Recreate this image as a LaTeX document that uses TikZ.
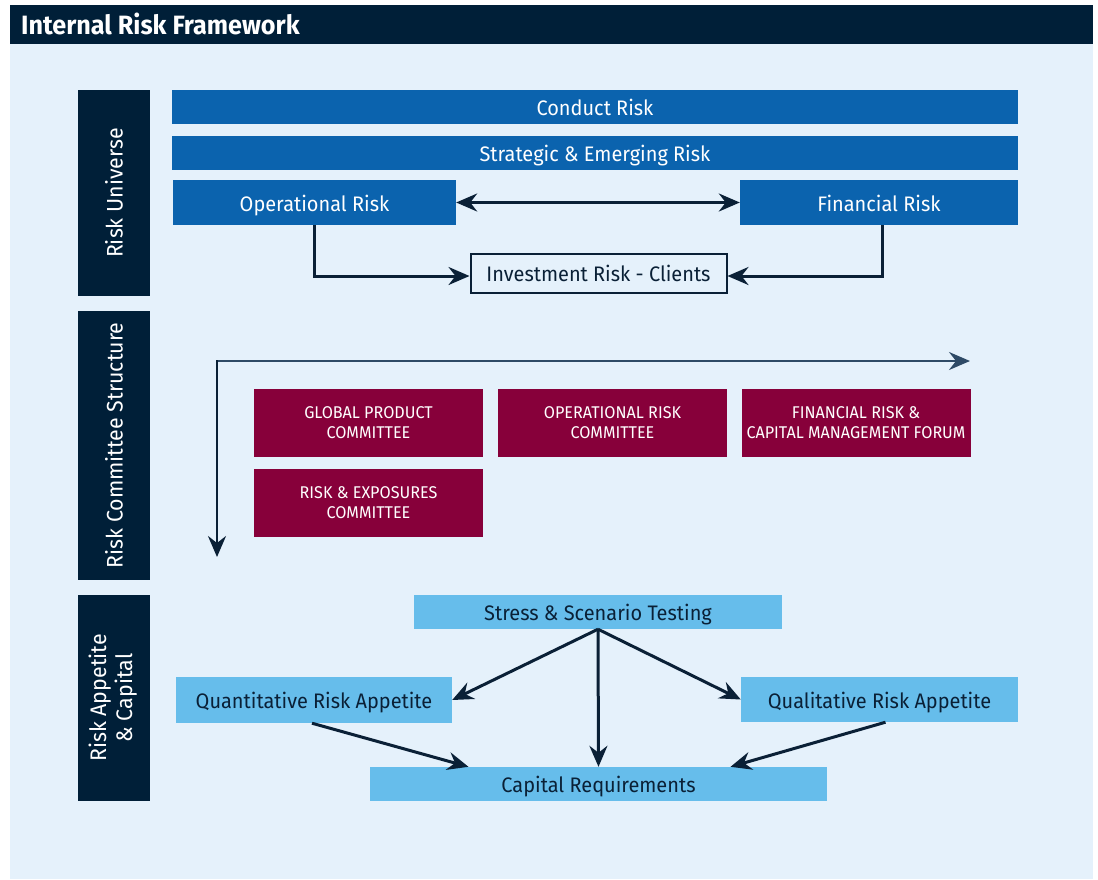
\documentclass[tikz,border=0pt]{standalone}
\usepackage{fontspec}
\setmainfont{Fira Sans}[FakeStretch=0.95]
\usetikzlibrary{arrows.meta,positioning}

\definecolor{navy}{HTML}{001F38}
\definecolor{paleblue}{HTML}{E5F1FB}
\definecolor{riskblue}{HTML}{0B63AE}
\definecolor{maroon}{HTML}{87003A}
\definecolor{skyblue}{HTML}{66BDEB}
\definecolor{arrownavy}{HTML}{0A2036}
\definecolor{slate}{HTML}{2E4A66}

\begin{document}
\begin{tikzpicture}
[x=1pt,y=-1pt,
 side/.style={fill=navy,text=white,inner sep=0pt,minimum width=72pt,
    align=center,font=\fontsize{22.5}{26}\selectfont},
 riskbar/.style={fill=riskblue,text=white,inner sep=0pt,text height=17.5pt,
    text depth=0pt,font=\fontsize{21}{24}\selectfont},
 committee/.style={fill=maroon,text=white,inner sep=0pt,minimum width=229pt,
    minimum height=68pt,align=center,font=\fontsize{17}{20}\selectfont},
 appetite/.style={fill=skyblue,text=arrownavy,inner sep=0pt,text height=17.5pt,
    text depth=0pt,font=\fontsize{21}{24}\selectfont},
 head/.tip={Stealth[length=21pt,width=18pt,inset=7pt]},
 link/.style={draw=arrownavy,line width=3pt,-head}]
\useasboundingbox (0,0) rectangle (1098,879);
\fill[paleblue] (10,44) rectangle (1093,879);
\fill[navy] (10,5) rectangle (1093,44);
\node[anchor=west,text=white,inner sep=0pt,font=\fontsize{26.5}{30}\selectfont\bfseries]
  (title) at (21,24) {Internal Risk Framework};

\node[side,minimum height=206pt] (uni) at (114,193) {\rotatebox{90}{Risk Universe}};
\node[side,minimum height=269pt] (comm) at (114,445.5) {\rotatebox{90}{Risk Committee Structure}};
\node[side,minimum height=206pt] (app) at (114,698)
  {\rotatebox{90}{\begin{tabular}{@{}c@{}}Risk Appetite\\ \& Capital\end{tabular}}};

\node[riskbar,minimum width=846pt,minimum height=34pt] (conduct) at (595,107) {Conduct Risk};
\node[riskbar,minimum width=846pt,minimum height=34pt] (strategic) at (595,153) {Strategic \& Emerging Risk};
\node[riskbar,minimum width=283pt,minimum height=45pt] (oper) at (314.5,202.5) {Operational Risk};
\node[riskbar,minimum width=278pt,minimum height=45pt] (fin) at (879,202.5) {Financial Risk};
\node[draw=arrownavy,line width=2pt,fill=paleblue,text=arrownavy,inner sep=0pt,
  minimum width=256pt,minimum height=39pt,text height=17pt,text depth=0pt,
  font=\fontsize{21}{24}\selectfont]
  (invest) at (598.5,273) {Investment Risk - Clients};

\draw [link,head-head] (oper) -- (fin);
\draw [link] (oper.south) |- ([yshift=-3pt]invest.west);
\draw [link] ([xshift=3pt]fin.south) |- ([yshift=-3pt]invest.east);

\coordinate (corner) at (217,361);
\coordinate (across) at (970,361);
\coordinate (down) at (217,557);
\draw [link,draw=slate,line width=2pt] (corner) -- (across);
\draw [link,line width=2.5pt] ([yshift=1pt]corner) -- (down);

\node[committee] (gpc) at (368.5,423) {GLOBAL PRODUCT\\COMMITTEE};
\node[committee] (orc) at (612.5,423) {OPERATIONAL RISK\\COMMITTEE};
\node[committee] (frf) at (856,423) {FINANCIAL RISK \&\\CAPITAL MANAGEMENT FORUM};
\node[committee] (rec) at (368.5,503) {RISK \& EXPOSURES\\COMMITTEE};

\node[appetite,minimum width=368pt,minimum height=34pt] (stress) at (598,612) {Stress \& Scenario Testing};
\node[appetite,minimum width=276pt,minimum height=46pt] (quant) at (314,700) {Quantitative Risk Appetite};
\node[appetite,minimum width=277pt,minimum height=45pt] (qual) at (879.5,699.5) {Qualitative Risk Appetite};
\node[appetite,minimum width=457pt,minimum height=34pt] (capital) at (598.5,784) {Capital Requirements};

\draw [link] (stress.south) -- (quant.east);
\draw [link] (stress.south) -- (qual.west);
\draw [link] (stress.south) -- (capital.north);
\draw [link] ([xshift=-2pt]quant.south) -- ([xshift=-130pt]capital.north);
\draw [link] ([xshift=6pt]qual.south) -- ([xshift=132pt]capital.north);
\end{tikzpicture}
\end{document}
